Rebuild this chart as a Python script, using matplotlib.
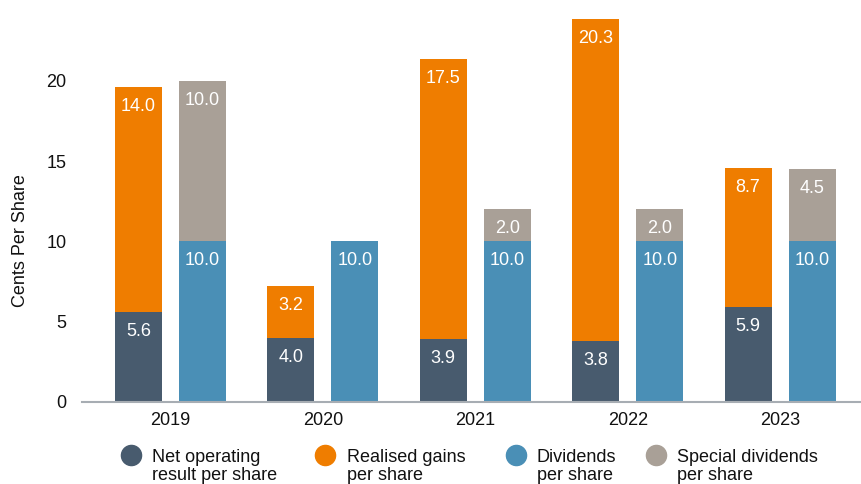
import matplotlib
matplotlib.use("Agg")
import matplotlib.pyplot as plt
from matplotlib.lines import Line2D
import numpy as np

plt.rcParams['font.family'] = ['Liberation Sans', 'DejaVu Sans']

years = ["2019", "2020", "2021", "2022", "2023"]
net_operating = [5.6, 4.0, 3.9, 3.8, 5.9]
realised_gains = [14.0, 3.2, 17.5, 20.3, 8.7]
dividends = [10.0, 10.0, 10.0, 10.0, 10.0]
special_dividends = [10.0, 0.0, 2.0, 2.0, 4.5]
yticks = [0, 5, 10, 15, 20]

legend_labels = [("Net operating", "result per share"),
                 ("Realised gains", "per share"),
                 ("Dividends", "per share"),
                 ("Special dividends", "per share")]

c_net = "#485b6e"
c_real = "#ef7d00"
c_div = "#4a8fb6"
c_spec = "#a9a097"

W, H = 861, 484
fig = plt.figure(figsize=(W / 100, H / 100), dpi=100)
ax_left, ax_right, ax_bottom, ax_top = 82, 861, 402, 19
ax = fig.add_axes([ax_left / W, (H - ax_bottom) / H, (ax_right - ax_left) / W, (ax_bottom - ax_top) / H])
px_per_unit = 16.05
ymax = (ax_bottom - ax_top) / px_per_unit

x = np.arange(len(years))
bw = 0.309
off = 0.21

ax.bar(x - off, net_operating, bw, color=c_net)
ax.bar(x - off, realised_gains, bw, bottom=net_operating, color=c_real)
ax.bar(x + off, dividends, bw, color=c_div)
ax.bar(x + off, special_dividends, bw, bottom=dividends, color=c_spec)

def label(xs, bottoms, vals):
    for xi, b, v in zip(xs, bottoms, vals):
        if v <= 0:
            continue
        top = min(b + v, ymax)
        ax.annotate(f"{v:.1f}", (xi, top), xytext=(0, -19.5), textcoords='offset pixels',
                    ha='center', va='center', color='white', fontsize=13)

label(x - off, [0] * 5, net_operating)
label(x - off, net_operating, realised_gains)
label(x + off, [0] * 5, dividends)
label(x + off, dividends, special_dividends)

ax.set_ylim(0, ymax)
ax.set_xlim((ax_left - 170.5) / 152.4, (ax_right - 170.5) / 152.4)
ax.set_yticks(yticks)
ax.set_yticklabels([str(t) for t in yticks])
ax.set_xticks(x)
ax.set_xticklabels(years)
ax.tick_params(axis='both', length=0, labelsize=13, colors='#111111')
ax.tick_params(axis='y', pad=11)
ax.tick_params(axis='x', pad=7)
for s in ['top', 'right', 'left']:
    ax.spines[s].set_visible(False)
ax.spines['bottom'].set_color('#a7adb3')
ax.spines['bottom'].set_linewidth(1.5)

fig.text(21 / W, 1 - 241 / H, "Cents Per Share", rotation=90, ha='center', va='center',
         fontsize=13, color='#111111')

colors = [c_net, c_real, c_div, c_spec]
circle_x = [131, 325, 516, 656]
text_x = [152, 347, 537, 677]
for cx, tx, col, (l1, l2) in zip(circle_x, text_x, colors, legend_labels):
    fig.add_artist(Line2D([cx / W], [1 - 455 / H], marker='o', markersize=14.5, color=col,
                          linestyle='none', transform=fig.transFigure))
    fig.text(tx / W, 1 - 461.5 / H, l1, ha='left', va='baseline', fontsize=13, color='#111111')
    fig.text(tx / W, 1 - 480.5 / H, l2, ha='left', va='baseline', fontsize=13, color='#111111')

fig.savefig("out.png", dpi=100)
